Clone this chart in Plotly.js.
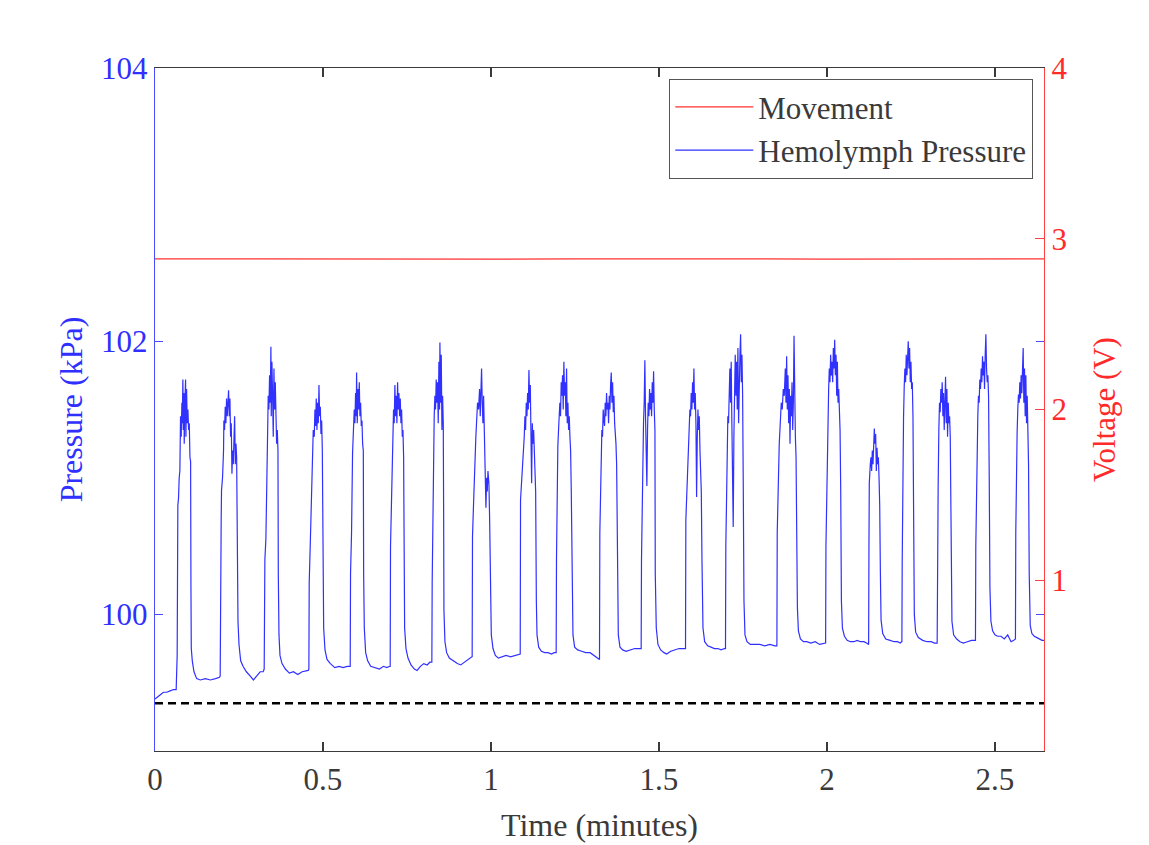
<!DOCTYPE html>
<html>
<head>
<meta charset="utf-8">
<script src="https://cdn.plot.ly/plotly-3.0.1.min.js"></script>
<style>
  html, body { margin: 0; padding: 0; background: #ffffff; }
  #chart { width: 1149px; height: 845px; }
</style>
</head>
<body>
<div id="chart"></div>
<script>
// ---- Data ----
// Hemolymph pressure trace (time in minutes, pressure in kPa)
const timeMin = [
  0.000,0.008,0.015,0.025,0.035,0.045,0.055,0.063,
  0.065,0.066,0.068,0.070,0.072,0.074,0.076,0.078,0.080,0.081,0.083,0.084,0.086,0.087,0.089,0.091,0.092,0.094,0.096,0.098,0.100,0.102,0.104,0.106,0.107,0.108,0.111,0.116,0.124,0.135,0.150,0.165,0.180,0.192,
  0.194,0.195,0.197,0.198,0.201,0.204,0.205,0.207,0.209,0.211,0.213,0.215,0.217,0.219,0.221,0.223,0.225,0.227,0.229,0.231,0.233,0.235,0.237,0.239,0.241,0.243,0.245,0.247,0.250,0.255,0.262,0.272,0.283,0.293,0.303,0.313,0.322,
  0.325,0.327,0.330,0.332,0.334,0.335,0.337,0.339,0.341,0.343,0.345,0.346,0.348,0.350,0.352,0.354,0.356,0.358,0.360,0.362,0.364,0.366,0.367,0.369,0.372,0.378,0.388,0.400,0.412,0.425,0.438,0.450,0.456,
  0.458,0.459,0.462,0.465,0.466,0.469,0.471,0.474,0.476,0.478,0.480,0.482,0.484,0.486,0.488,0.490,0.492,0.494,0.496,0.498,0.500,0.502,0.506,0.512,0.522,0.535,0.548,0.560,0.572,0.580,
  0.581,0.582,0.585,0.588,0.591,0.593,0.595,0.597,0.599,0.600,0.602,0.604,0.606,0.608,0.610,0.612,0.614,0.616,0.618,0.620,0.621,0.623,0.627,0.633,0.642,0.655,0.668,0.680,0.690,0.699,
  0.700,0.701,0.704,0.707,0.710,0.712,0.714,0.716,0.718,0.720,0.722,0.724,0.726,0.728,0.730,0.732,0.734,0.736,0.738,0.740,0.741,0.743,0.747,0.753,0.762,0.772,0.780,0.790,0.800,0.810,0.818,0.823,
  0.824,0.825,0.827,0.828,0.831,0.833,0.835,0.837,0.839,0.841,0.843,0.845,0.847,0.848,0.850,0.852,0.854,0.856,0.858,0.859,0.860,0.863,0.868,0.876,0.888,0.900,0.910,0.920,0.932,0.943,
  0.944,0.945,0.948,0.952,0.955,0.958,0.960,0.963,0.966,0.968,0.970,0.972,0.974,0.976,0.978,0.980,0.982,0.984,0.985,0.987,0.989,0.991,0.994,0.996,0.998,1.001,1.006,1.013,1.022,1.032,1.045,1.058,1.070,1.082,1.087,
  1.088,1.091,1.094,1.096,1.099,1.101,1.103,1.105,1.107,1.109,1.111,1.113,1.115,1.117,1.119,1.121,1.123,1.125,1.127,1.129,1.131,1.133,1.135,1.137,1.142,1.150,1.160,1.170,1.180,1.188,1.193,
  1.194,1.195,1.197,1.199,1.202,1.205,1.207,1.209,1.211,1.213,1.215,1.217,1.219,1.221,1.223,1.225,1.227,1.229,1.231,1.233,1.235,1.237,1.239,1.241,1.244,1.249,1.258,1.270,1.282,1.295,1.305,1.315,1.321,
  1.323,1.324,1.326,1.328,1.330,1.332,1.334,1.336,1.338,1.340,1.342,1.344,1.346,1.348,1.350,1.352,1.354,1.356,1.358,1.360,1.362,1.364,1.366,1.368,1.370,1.372,1.374,1.376,1.379,1.384,1.392,1.402,1.415,1.428,1.440,1.446,
  1.447,1.448,1.450,1.452,1.454,1.456,1.458,1.460,1.462,1.464,1.466,1.468,1.470,1.472,1.474,1.476,1.478,1.480,1.482,1.484,1.486,1.488,1.489,1.492,1.497,1.505,1.515,1.523,1.535,1.548,1.560,1.572,1.578,
  1.579,1.580,1.583,1.587,1.590,1.592,1.594,1.596,1.598,1.600,1.602,1.604,1.606,1.608,1.610,1.612,1.614,1.616,1.618,1.620,1.622,1.624,1.626,1.628,1.631,1.636,1.645,1.655,1.665,1.675,1.685,1.695,
  1.698,1.699,1.701,1.703,1.705,1.707,1.709,1.711,1.713,1.715,1.717,1.719,1.721,1.723,1.725,1.727,1.729,1.731,1.733,1.735,1.737,1.739,1.741,1.743,1.745,1.747,1.749,1.751,1.753,1.756,1.762,1.772,1.785,1.800,1.815,1.830,1.845,1.851,
  1.852,1.855,1.858,1.861,1.864,1.867,1.870,1.873,1.876,1.878,1.880,1.882,1.884,1.886,1.888,1.890,1.892,1.894,1.896,1.898,1.900,1.902,1.904,1.906,1.908,1.910,1.912,1.915,1.921,1.930,1.940,1.952,1.965,1.978,1.990,1.996,
  1.997,1.999,2.001,2.003,2.005,2.007,2.009,2.011,2.013,2.015,2.017,2.019,2.021,2.023,2.025,2.027,2.029,2.031,2.033,2.035,2.037,2.039,2.041,2.043,2.046,2.052,2.060,2.070,2.080,2.090,2.100,2.110,2.118,2.123,
  2.124,2.125,2.126,2.129,2.131,2.133,2.135,2.137,2.139,2.141,2.143,2.145,2.147,2.149,2.151,2.153,2.155,2.157,2.159,2.161,2.166,2.175,2.188,2.200,2.210,2.218,2.222,
  2.223,2.224,2.226,2.228,2.230,2.232,2.234,2.236,2.238,2.240,2.242,2.244,2.246,2.248,2.250,2.252,2.254,2.256,2.258,2.260,2.264,2.272,2.285,2.298,2.310,2.320,2.328,
  2.329,2.331,2.333,2.335,2.337,2.339,2.341,2.343,2.345,2.347,2.349,2.351,2.353,2.355,2.357,2.359,2.361,2.363,2.365,2.367,2.369,2.372,2.377,2.386,2.396,2.406,2.418,2.430,2.441,
  2.442,2.443,2.445,2.447,2.449,2.451,2.453,2.455,2.457,2.459,2.461,2.463,2.465,2.467,2.469,2.471,2.473,2.475,2.477,2.479,2.481,2.483,2.485,2.488,2.493,2.500,2.508,2.518,2.528,2.538,2.548,2.556,2.560,
  2.561,2.562,2.564,2.566,2.568,2.570,2.572,2.574,2.576,2.578,2.580,2.582,2.584,2.586,2.588,2.590,2.592,2.594,2.596,2.598,2.600,2.602,2.605,2.610,2.617,2.625,2.633,2.640,2.646
];
const pressureKPa = [
  99.38,99.40,99.41,99.43,99.43,99.44,99.45,99.45,
  99.62,99.70,100.80,100.85,101.00,101.05,101.45,101.30,101.55,101.40,101.72,101.35,101.62,101.25,101.55,101.72,101.30,101.65,101.40,101.50,101.35,101.40,101.15,101.12,100.20,99.75,99.66,99.58,99.53,99.52,99.53,99.52,99.53,99.54,
  99.55,100.64,100.70,100.91,101.00,101.20,101.42,101.35,101.52,101.40,101.58,101.45,101.55,101.64,101.45,101.58,101.30,101.40,101.03,101.20,101.10,101.30,101.45,101.10,101.25,101.15,100.30,99.95,99.78,99.66,99.62,99.58,99.55,99.52,99.55,99.58,99.58,
  99.60,100.40,100.55,100.84,101.10,101.42,101.60,101.50,101.75,101.55,101.96,101.45,101.85,101.60,101.30,101.80,101.50,101.70,101.40,101.25,101.35,101.20,100.30,99.85,99.70,99.64,99.60,99.57,99.58,99.56,99.58,99.59,99.59,
  99.60,100.23,100.50,100.80,101.03,101.20,101.35,101.30,101.50,101.38,101.58,101.35,101.55,101.40,101.68,101.45,101.52,101.32,101.42,101.20,100.40,99.90,99.74,99.67,99.64,99.61,99.62,99.61,99.62,99.62,
  99.62,100.30,100.60,101.18,101.35,101.50,101.40,101.62,101.45,101.77,101.40,101.65,101.50,101.70,101.45,101.55,101.38,101.42,101.25,101.20,100.30,99.90,99.72,99.66,99.62,99.61,99.60,99.62,99.61,99.62,
  99.62,100.50,100.90,101.30,101.50,101.40,101.68,101.45,101.60,101.40,101.70,101.50,101.62,101.45,101.58,101.40,101.50,101.30,101.35,101.15,100.40,99.90,99.75,99.68,99.63,99.60,99.59,99.62,99.64,99.63,99.65,99.65,
  99.65,100.23,100.60,101.18,101.45,101.60,101.50,101.72,101.55,101.70,101.40,101.85,101.50,101.99,101.55,101.90,101.35,101.60,101.40,100.80,100.03,99.80,99.72,99.68,99.66,99.64,99.63,99.65,99.67,99.69,
  99.69,100.57,100.80,101.18,101.30,101.45,101.55,101.50,101.65,101.45,101.70,101.80,101.55,101.40,101.60,101.30,101.10,100.90,100.78,101.00,100.90,101.05,100.95,100.70,100.10,99.85,99.75,99.70,99.68,99.69,99.70,99.69,99.70,99.71,99.71,
  100.84,100.95,101.10,101.18,101.30,101.45,101.35,101.55,101.45,101.62,101.50,101.79,101.55,101.68,101.35,100.96,101.40,101.25,101.35,101.20,101.10,100.90,100.10,99.85,99.76,99.73,99.72,99.72,99.71,99.72,99.72,
  99.72,100.40,100.90,101.23,101.40,101.55,101.45,101.70,101.60,101.75,101.50,101.85,101.60,101.70,101.45,101.80,101.40,101.55,101.35,101.45,101.30,101.20,100.90,100.20,99.85,99.76,99.74,99.73,99.72,99.72,99.70,99.68,99.67,
  99.67,100.60,100.99,101.19,101.35,101.30,101.50,101.42,101.38,101.55,101.45,101.62,101.50,101.55,101.40,101.60,101.50,101.68,101.77,101.55,101.70,101.48,101.60,101.40,101.35,101.25,101.10,100.20,99.85,99.76,99.74,99.73,99.74,99.75,99.75,99.75,
  99.75,100.40,100.90,101.20,101.40,101.55,101.86,101.45,101.20,100.94,101.35,101.55,101.45,101.65,101.50,101.62,101.45,101.70,101.55,101.78,101.50,101.35,100.30,99.90,99.78,99.74,99.72,99.71,99.73,99.74,99.75,99.75,99.75,
  99.75,100.69,100.90,101.11,101.35,101.50,101.45,101.62,101.50,101.70,101.55,101.80,101.50,101.62,101.40,100.86,101.30,101.50,101.35,101.45,101.20,101.10,100.90,100.40,99.90,99.80,99.77,99.76,99.75,99.75,99.74,99.75,
  99.75,100.50,100.95,101.28,101.45,101.40,101.60,101.80,101.55,101.85,101.40,101.10,100.64,101.30,101.75,101.90,101.60,101.85,101.50,101.95,101.40,101.75,101.90,102.05,101.70,101.90,101.60,100.90,100.10,99.85,99.80,99.78,99.78,99.78,99.77,99.78,99.77,99.77,
  100.60,101.11,101.25,101.40,101.55,101.50,101.65,101.60,101.80,101.55,101.89,101.50,101.75,101.40,101.65,101.25,101.60,101.45,101.70,101.35,101.55,102.04,101.50,101.30,101.15,100.70,100.05,99.88,99.82,99.80,99.80,99.79,99.80,99.78,99.79,99.79,
  100.50,100.84,101.10,101.40,101.65,101.80,101.70,101.90,101.75,101.85,101.70,101.95,101.80,102.01,101.75,101.90,101.60,101.85,101.55,101.65,101.45,101.35,100.90,100.10,99.90,99.84,99.81,99.80,99.80,99.81,99.80,99.80,99.79,99.78,
  99.78,100.50,100.96,101.10,101.15,101.05,101.20,101.10,101.30,101.36,101.25,101.32,101.05,101.22,101.10,101.15,101.00,100.80,100.30,99.96,99.86,99.82,99.81,99.80,99.80,99.79,99.80,
  99.80,100.40,101.13,101.45,101.67,101.80,101.70,101.90,101.75,101.95,102.00,101.80,101.95,101.70,101.85,101.65,101.70,101.45,100.60,100.00,99.87,99.83,99.81,99.80,99.80,99.79,99.79,
  100.40,100.95,101.35,101.55,101.48,101.65,101.55,101.70,101.45,101.62,101.35,101.60,101.74,101.40,101.65,101.30,101.55,101.40,101.45,101.30,100.40,99.95,99.85,99.82,99.80,99.79,99.80,99.81,99.81,
  99.81,100.50,101.00,101.25,101.45,101.60,101.55,101.72,101.65,101.80,101.70,101.89,101.75,101.85,101.65,101.90,102.05,101.80,101.70,101.75,101.60,101.00,100.20,99.95,99.88,99.85,99.84,99.84,99.82,99.85,99.80,99.81,99.82,
  99.82,100.60,101.10,101.33,101.50,101.61,101.55,101.70,101.58,101.75,101.62,101.85,101.95,101.55,101.80,101.45,101.75,101.40,101.60,101.35,101.10,100.30,99.92,99.86,99.84,99.83,99.82,99.81,99.81
];

// Movement trace (time in minutes, voltage in V)
const movementTime = [0.00, 0.25, 0.50, 0.75, 1.00, 1.25, 1.50, 1.75, 2.00, 2.25, 2.50, 2.646];
const movementV    = [2.882, 2.881, 2.880, 2.882, 2.881, 2.882, 2.880, 2.882, 2.881, 2.880, 2.882, 2.882];

// Dashed reference level (kPa)
const baselineTime = [0, 2.646];
const baselineKPa  = [99.35, 99.35];

// Axis ticks
const xTicks = [0, 0.5, 1, 1.5, 2, 2.5];
const xTickLabels = ["0", "0.5", "1", "1.5", "2", "2.5"];
const pTicks = [100, 102, 104];
const vTicks = [1, 2, 3, 4];

// ---- Styling ----
const FONT = "Liberation Serif, Times New Roman, serif";
const BLUE = "#2f2fff";
const RED = "#ff2a2a";
const GREY = "#3a3a3a";

const traces = [
  {
    x: movementTime, y: movementV, yaxis: "y2", type: "scatter", mode: "lines",
    name: "Movement", line: { color: "#ff3030", width: 1.2 }, legendrank: 1
  },
  {
    x: timeMin, y: pressureKPa, yaxis: "y", type: "scatter", mode: "lines",
    name: "Hemolymph Pressure", line: { color: "#3030ff", width: 1.2 }, legendrank: 2
  },
  {
    x: baselineTime, y: baselineKPa, yaxis: "y", type: "scatter", mode: "lines",
    showlegend: false, hoverinfo: "skip",
    line: { color: "#000000", width: 2.6, dash: "8px,5px" }
  }
];

const layout = {
  width: 1149, height: 845,
  margin: { l: 155, r: 105, t: 68, b: 94, pad: 0 },
  paper_bgcolor: "#ffffff", plot_bgcolor: "#ffffff",
  font: { family: FONT, size: 31, color: GREY },
  showlegend: true,
  legend: {
    x: 0.9876, xanchor: "right", y: 0.984, yanchor: "top",
    bgcolor: "#ffffff", bordercolor: "#555555", borderwidth: 1.3,
    font: { family: FONT, size: 31, color: GREY },
    itemwidth: 78, tracegroupgap: 0
  },
  xaxis: {
    range: [0, 2.646], tickvals: xTicks, ticktext: xTickLabels,
    ticks: "inside", ticklen: 9, tickwidth: 1.3, tickcolor: GREY,
    showline: true, linecolor: GREY, linewidth: 1.3, mirror: "ticks",
    showgrid: false, zeroline: false,
    tickfont: { family: FONT, size: 31, color: GREY },
    title: { text: "Time (minutes)", font: { family: FONT, size: 32, color: GREY }, standoff: 18 }
  },
  yaxis: {
    range: [99, 104], tickvals: pTicks,
    ticks: "inside", ticklen: 8, tickwidth: 1.3, tickcolor: "#4a4aff",
    showline: true, linecolor: "#4a4aff", linewidth: 1.3, mirror: "ticks",
    showgrid: false, zeroline: false,
    tickfont: { family: FONT, size: 31, color: BLUE },
    title: { text: "Pressure (kPa)", font: { family: FONT, size: 32, color: BLUE }, standoff: 8 }
  },
  yaxis2: {
    range: [0, 4], tickvals: vTicks, overlaying: "y", side: "right",
    ticks: "inside", ticklen: 9, tickwidth: 1.3, tickcolor: "#ff4040",
    showline: true, linecolor: "#ff4040", linewidth: 1.3,
    showgrid: false, zeroline: false,
    tickfont: { family: FONT, size: 31, color: RED },
    title: { text: "Voltage (V)", font: { family: FONT, size: 31, color: RED }, standoff: 26 }
  }
};

Plotly.newPlot("chart", traces, layout, { displayModeBar: false, staticPlot: true });
</script>
</body>
</html>
